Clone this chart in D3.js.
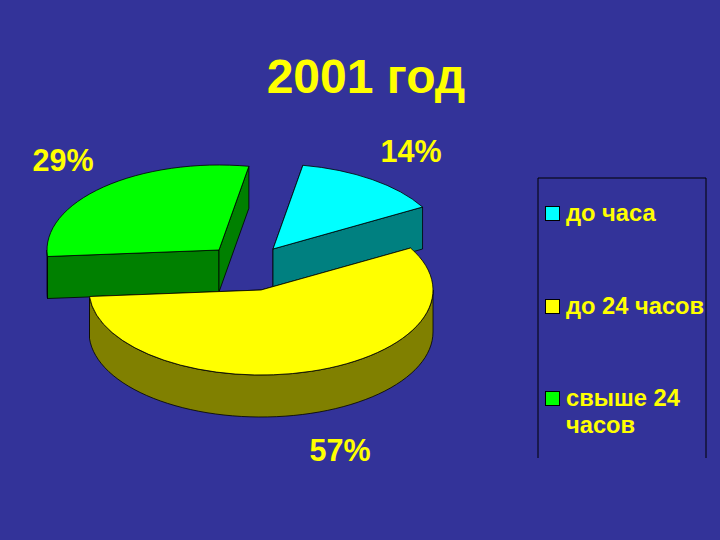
<!DOCTYPE html>
<html>
<head>
<meta charset="utf-8">
<style>
    html, body { margin: 0; padding: 0; background: #333399; }
    text { font-family: "Liberation Sans", Arial, sans-serif; font-weight: bold; fill: #ffff00; }
</style>
<script src="https://cdnjs.cloudflare.com/ajax/libs/d3/7.8.5/d3.min.js"></script>
</head>
<body>
<div id="chart-holder"></div>
<script>
// Chart values
const title = '2001 год';
const categories = [['до часа'], ['до 24 часов'], ['свыше 24', 'часов']];
const shares = [14, 57, 29];
const topColors = ['#00ffff', '#ffff00', '#00ff00'];
const wallColors = ['#008080', '#808000', '#008000'];

// Layout, one entry per slice
const sliceCenters = [[273, 249], [261, 290], [219, 250]];
const labelSpots = [[411, 162], [340, 461], [63, 171]];
const legendRows = [221, 314, 406];

const width = 720, height = 540;
const rx = 172, ry = 85, depth = 42;
const rotation = 10 * Math.PI / 180;

const svg = d3.select('#chart-holder')
    .append('svg')
    .attr('width', width)
    .attr('height', height)
    .style('display', 'block');

svg.append('rect')
    .attr('width', width)
    .attr('height', height)
    .attr('fill', '#333399');

const slices = d3.pie()
    .sort(null)
    .startAngle(rotation)
    .endAngle(rotation + 2 * Math.PI)(shares);

const arc = d3.arc().innerRadius(0).outerRadius(rx);
const line = d3.line();

// angle is clockwise from 12 o'clock, same as d3.pie
function rim(angle, drop) {
    return [rx * Math.sin(angle), -ry * Math.cos(angle) + drop];
}

function cutFace(angle) {
    return line([[0, 0], rim(angle, 0), rim(angle, depth), [0, depth]]) + 'Z';
}

// Outside wall, only the part of the rim facing the viewer
function outerWall(d) {
    const a0 = Math.max(d.startAngle, Math.PI / 2);
    const a1 = Math.min(d.endAngle, 3 * Math.PI / 2);
    if (a1 <= a0) return null;
    const steps = d3.range(0, 61).map(i => a0 + (a1 - a0) * i / 60);
    return line([...steps.map(a => rim(a, 0)), ...steps.reverse().map(a => rim(a, depth))]) + 'Z';
}

// Draw back to front: cyan, green, then yellow on top
const order = [0, 2, 1];

const sliceG = svg.selectAll('.slice')
    .data(order.map(i => ({ ...slices[i], i: i })))
    .join('g')
    .classed('slice', true)
    .attr('transform', d => `translate(${sliceCenters[d.i][0]},${sliceCenters[d.i][1]})`);

sliceG.selectAll('.face')
    .data(d => [d.startAngle, d.endAngle].map(a => ({ angle: a, i: d.i })))
    .join('path')
    .classed('face', true)
    .attr('d', d => cutFace(d.angle))
    .attr('fill', d => wallColors[d.i])
    .attr('stroke', '#000')
    .attr('stroke-width', 0.8)
    .attr('stroke-linejoin', 'round');

sliceG.filter(d => outerWall(d) !== null)
    .append('path')
    .attr('d', outerWall)
    .attr('fill', d => wallColors[d.i])
    .attr('stroke', '#000')
    .attr('stroke-width', 0.8)
    .attr('stroke-linejoin', 'round');

sliceG.append('path')
    .attr('d', arc)
    .attr('transform', `scale(1,${ry / rx})`)
    .attr('fill', d => topColors[d.i])
    .attr('stroke', '#000')
    .attr('stroke-width', 0.8)
    .attr('vector-effect', 'non-scaling-stroke');

// Title
svg.append('text')
    .attr('x', 366)
    .attr('y', 93)
    .attr('text-anchor', 'middle')
    .attr('font-size', 48)
    .text(title);

// Percent labels
svg.selectAll('.pct')
    .data(shares)
    .join('text')
    .classed('pct', true)
    .attr('x', (d, i) => labelSpots[i][0])
    .attr('y', (d, i) => labelSpots[i][1])
    .attr('text-anchor', 'middle')
    .attr('font-size', 30.5)
    .text(d => `${d}%`);

// Legend, open at the bottom like the original
const legend = svg.append('g');

legend.append('path')
    .attr('d', line([[538, 458], [538, 178], [706, 178], [706, 458]]))
    .attr('fill', 'none')
    .attr('stroke', '#000')
    .attr('stroke-width', 1);

legend.selectAll('.swatch')
    .data(categories)
    .join('rect')
    .classed('swatch', true)
    .attr('x', 545.5)
    .attr('y', (d, i) => legendRows[i] - 14.5)
    .attr('width', 14)
    .attr('height', 14)
    .attr('fill', (d, i) => topColors[i])
    .attr('stroke', '#000')
    .attr('stroke-width', 1);

legend.selectAll('.legend-text')
    .data(categories)
    .join('text')
    .classed('legend-text', true)
    .attr('font-size', 23.7)
    .attr('y', (d, i) => legendRows[i])
    .selectAll('tspan')
    .data(d => d)
    .join('tspan')
    .attr('x', 566)
    .attr('dy', (d, i) => i ? 27 : 0)
    .text(d => d);
</script>
</body>
</html>
